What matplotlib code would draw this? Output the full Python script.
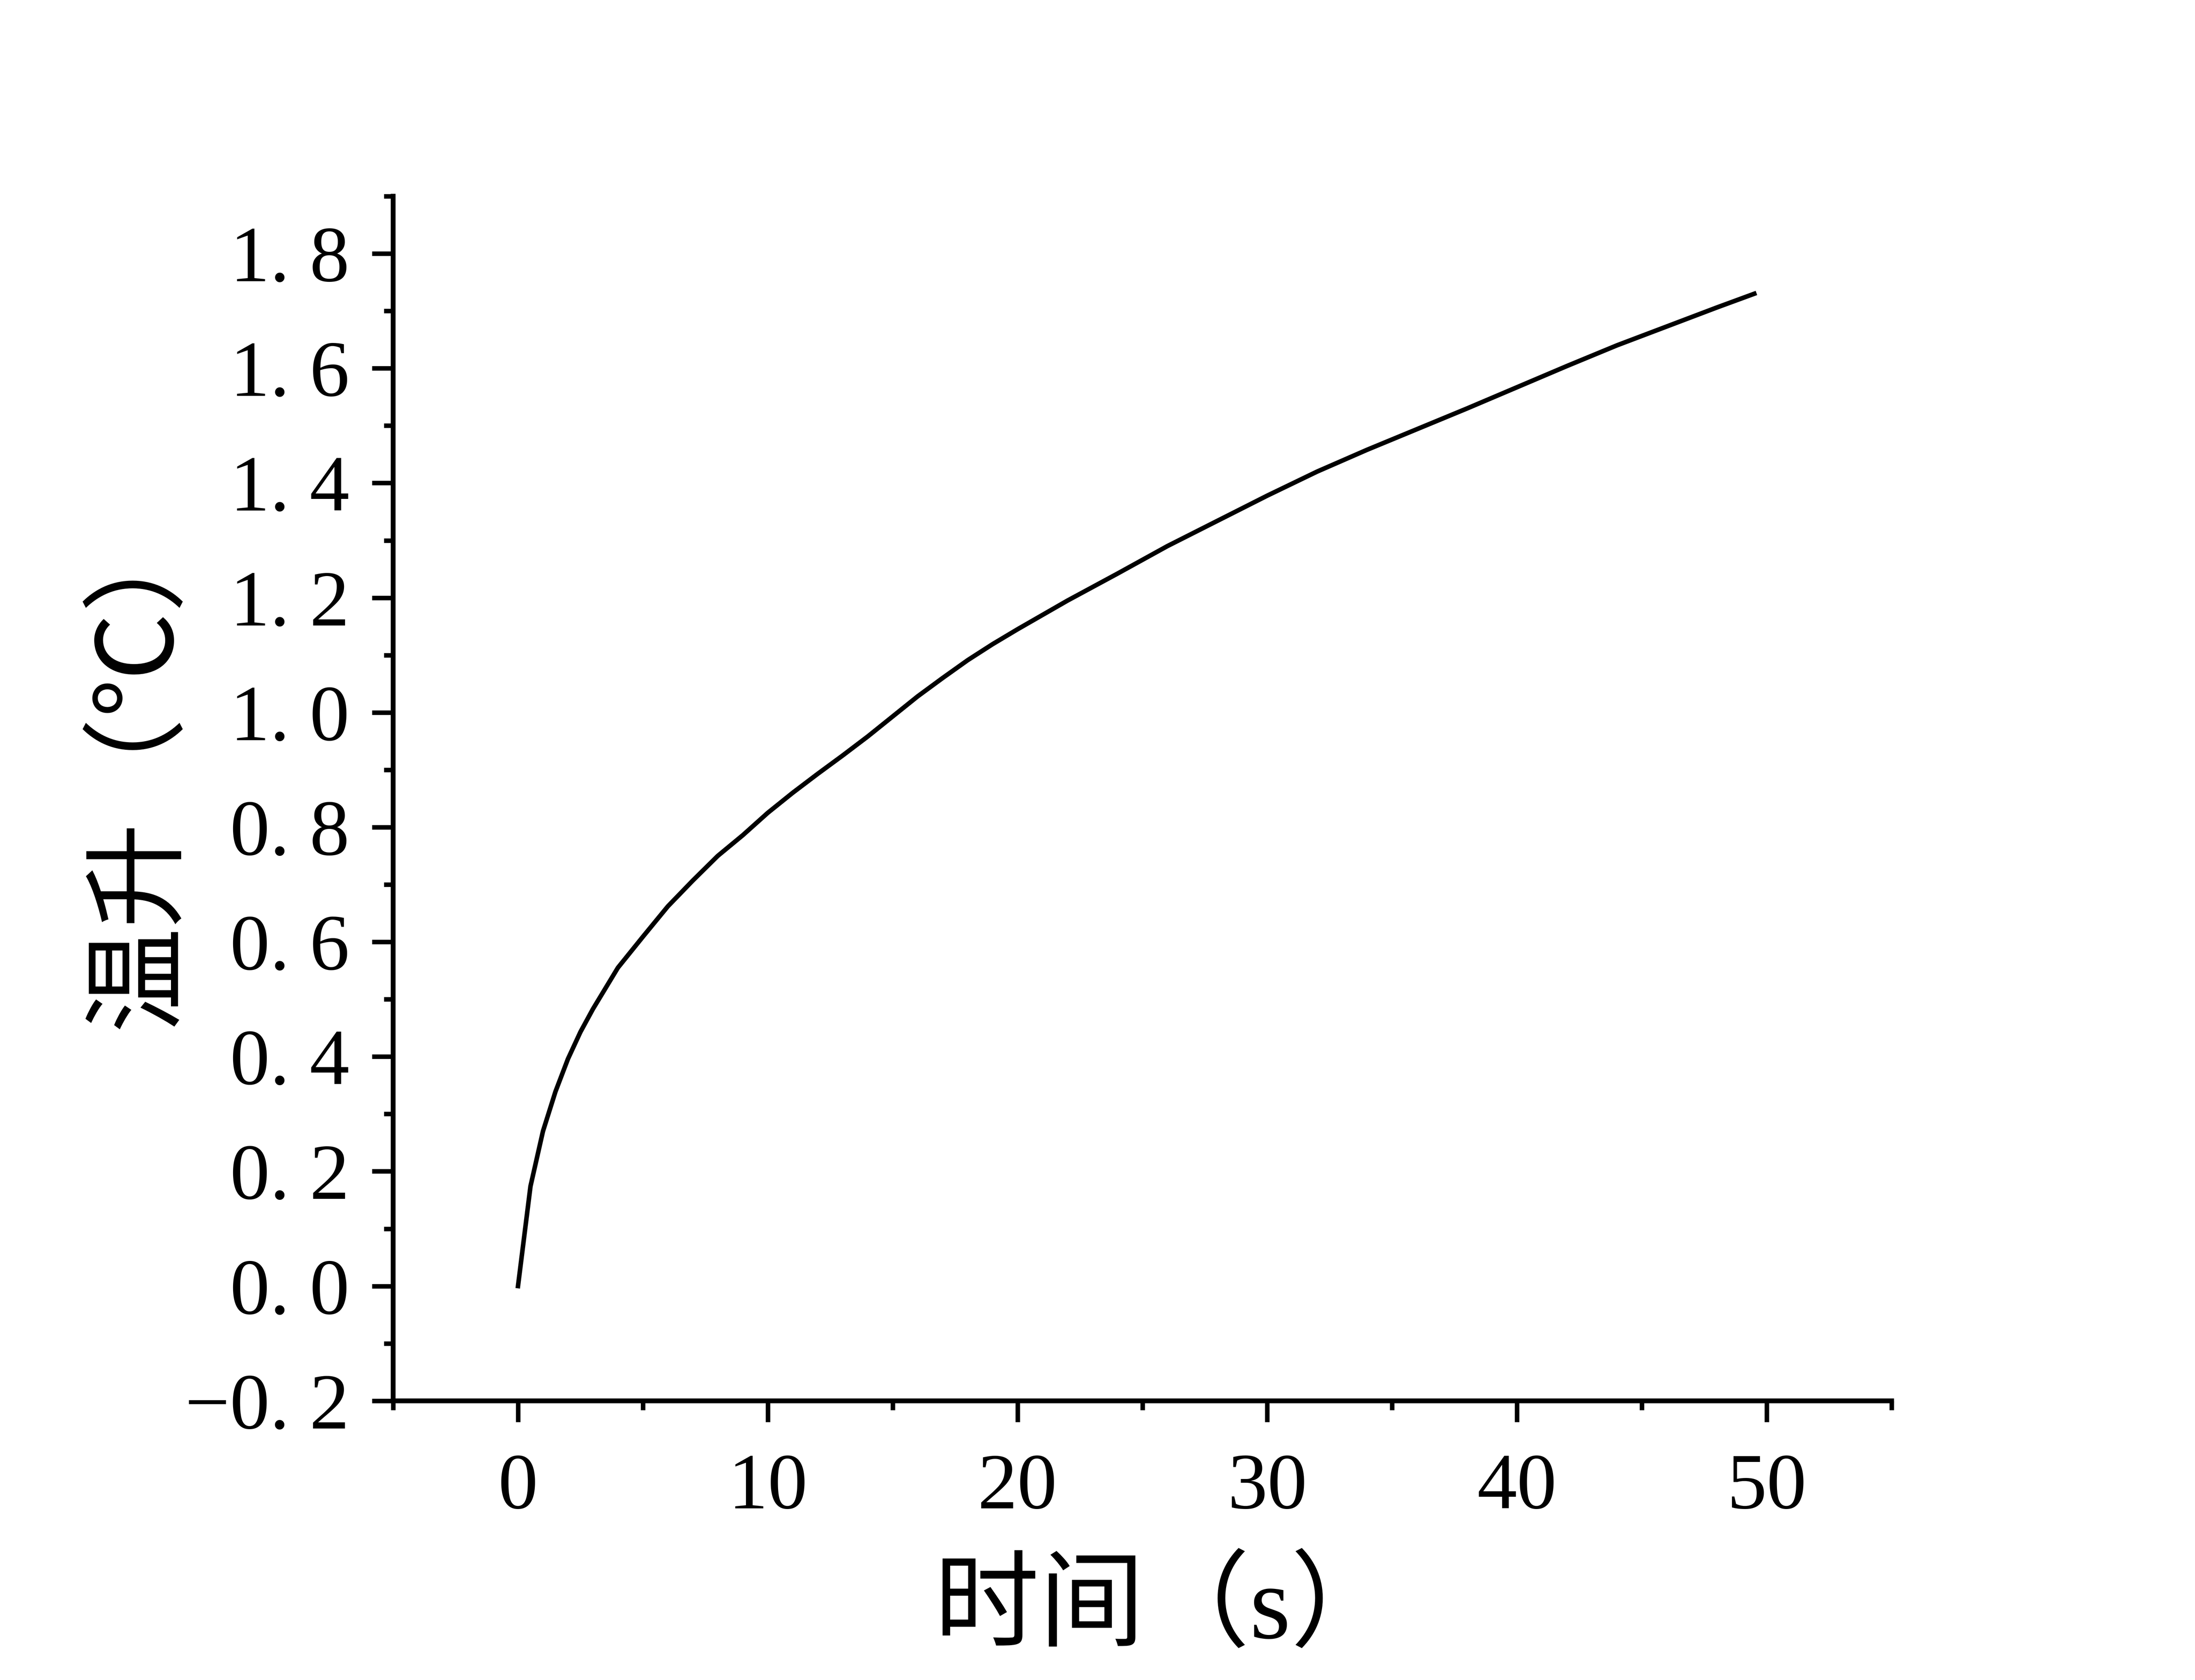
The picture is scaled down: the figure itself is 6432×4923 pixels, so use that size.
import matplotlib
matplotlib.use('Agg')
import matplotlib.pyplot as plt
import matplotlib.ticker as mticker

# ── Data ───────────────────────────────────────────────────────────────────────
time_s = [0, 0.5, 1, 1.5, 2, 2.5, 3, 4, 5, 6, 7, 8, 9, 10, 11, 12, 13, 14, 15,
          16, 17, 18, 19, 20, 22, 24, 26, 28, 30, 32, 34, 36, 38, 40, 42, 44,
          46, 48, 49.5]
temp_rise = [0, 0.174, 0.27, 0.339, 0.396, 0.443, 0.483, 0.555, 0.609, 0.662,
             0.707, 0.750, 0.786, 0.825, 0.860, 0.893, 0.925, 0.958, 0.993,
             1.028, 1.060, 1.091, 1.119, 1.145, 1.195, 1.242, 1.290, 1.334,
             1.378, 1.420, 1.458, 1.494, 1.530, 1.567, 1.604, 1.640, 1.673,
             1.706, 1.730]

x_ticks = [0, 10, 20, 30, 40, 50]
y_ticks = [-0.2, 0.0, 0.2, 0.4, 0.6, 0.8, 1.0, 1.2, 1.4, 1.6, 1.8]

XLABEL = "时间（s）"
YLABEL = "温升（℃）"

NUM_FONT = ["Liberation Serif", "DejaVu Serif"]
LABEL_FONT = ["Liberation Serif", "Noto Sans CJK SC", "DejaVu Sans"]

# ── Figure ─────────────────────────────────────────────────────────────────────
fig = plt.figure(figsize=(10.72, 8.205), dpi=600)
ax = fig.add_axes([0.1791, 0.1662, 0.6827, 0.7170])

ax.plot(time_s, temp_rise, color="black", linewidth=1.6)

ax.set_xlim(-5, 55)
ax.set_ylim(-0.2, 1.9)
ax.set_xticks(x_ticks)
ax.set_yticks(y_ticks)
ax.xaxis.set_minor_locator(mticker.MultipleLocator(5))
ax.yaxis.set_minor_locator(mticker.MultipleLocator(0.1))

ax.yaxis.set_major_formatter(mticker.FuncFormatter(
    lambda v, _: f"{v:.1f}".replace(".", ". ").replace("-", "\u2212")))
ax.xaxis.set_major_formatter(mticker.FuncFormatter(lambda v, _: f"{v:.0f}"))

for side in ("top", "right"):
    ax.spines[side].set_visible(False)
for side in ("left", "bottom"):
    ax.spines[side].set_linewidth(1.7)

ax.tick_params(which="major", direction="out", length=7.4, width=1.6,
               labelsize=28)
ax.tick_params(which="minor", direction="out", length=3.2, width=1.6)
ax.tick_params(axis="x", which="major", pad=11)
ax.tick_params(axis="y", which="major", pad=8)
for lbl in ax.get_xticklabels() + ax.get_yticklabels():
    lbl.set_family(NUM_FONT)

ax.set_xlabel(XLABEL, family=LABEL_FONT, fontsize=37, va="center")
ax.set_ylabel(YLABEL, family=LABEL_FONT, fontsize=37, va="center")
ax.xaxis.set_label_coords(0.515, -0.174)
ax.yaxis.set_label_coords(-0.168, 0.527)

plt.savefig("out.png", dpi=600, facecolor="white")
plt.close()
